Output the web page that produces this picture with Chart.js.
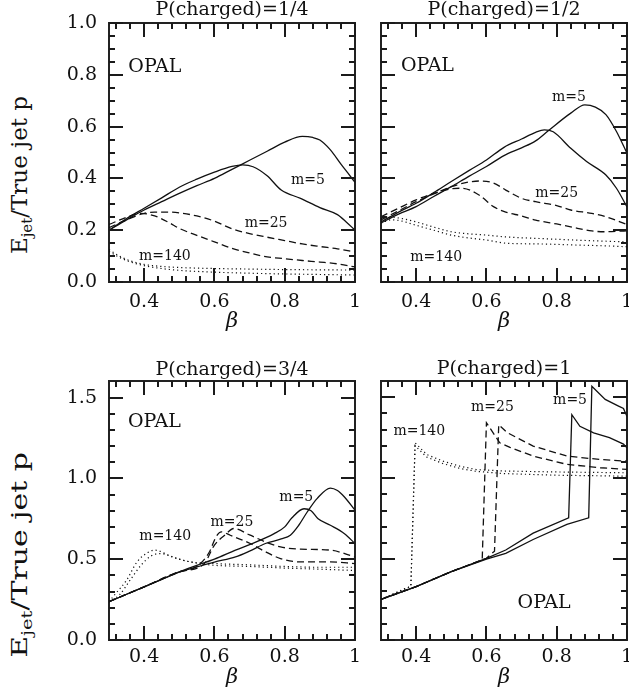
<!DOCTYPE html>
<html><head><meta charset="utf-8">
<script src="https://cdn.jsdelivr.net/npm/chart.js@4.4.1/dist/chart.umd.min.js"></script>
<style>
html,body{margin:0;padding:0;background:#fff;width:629px;height:698px;overflow:hidden;}
body{position:relative;}
canvas{position:absolute;}
.ylab{position:absolute;font-family:'DejaVu Serif';font-size:23px;color:#111;white-space:nowrap;}
.ylab sub{font-size:15px;vertical-align:-5px;}
</style></head><body>
<div class="ylab" style="left:21px;top:175px;transform:translate(-50%,-50%) rotate(-90deg);">E<sub>jet</sub>/True jet p</div>
<div class="ylab" style="left:21px;top:555px;transform:translate(-50%,-50%) rotate(-90deg) scaleX(1.3);">E<sub>jet</sub>/True jet p</div>
<canvas id="c1"></canvas><canvas id="c2"></canvas><canvas id="c3"></canvas><canvas id="c4"></canvas>
<script>
// ---------- tick values ----------
const xTickVals = [0.4, 0.6, 0.8, 1.0];
const xMinorVals = [0.32,0.36,0.44,0.48,0.52,0.56,0.64,0.68,0.72,0.76,0.84,0.88,0.92,0.96];
const yTickValsTop = [0, 0.2, 0.4, 0.6, 0.8, 1.0];
const yMinorTop = [0.05,0.1,0.15,0.25,0.3,0.35,0.45,0.5,0.55,0.65,0.7,0.75,0.85,0.9,0.95];
const yTickValsBot = [0, 0.5, 1.0, 1.5];
const yMinorBot = [0.1,0.2,0.3,0.4,0.6,0.7,0.8,0.9,1.1,1.2,1.3,1.4];
const panelTitles = ['P(charged)=1/4','P(charged)=1/2','P(charged)=3/4','P(charged)=1'];

// ---------- P(charged)=1/4 ----------
const q1_m5_a = [[0.3,0.2],[0.35,0.245],[0.4,0.285],[0.45,0.325],[0.5,0.366],[0.55,0.397],[0.6,0.424],[0.65,0.446],[0.68,0.452],[0.71,0.445],[0.75,0.41],[0.79,0.355],[0.845,0.323],[0.9,0.287],[0.95,0.26],[0.975,0.232],[1.0,0.2]];
const q1_m5_b = [[0.3,0.2],[0.35,0.24],[0.4,0.278],[0.45,0.31],[0.5,0.342],[0.55,0.372],[0.6,0.4],[0.65,0.435],[0.7,0.47],[0.75,0.505],[0.8,0.54],[0.85,0.562],[0.88,0.558],[0.9,0.548],[0.93,0.51],[0.96,0.455],[0.98,0.42],[1.0,0.385]];
const q1_m25_a = [[0.3,0.222],[0.35,0.25],[0.39,0.265],[0.43,0.255],[0.47,0.23],[0.5,0.207],[0.55,0.18],[0.6,0.155],[0.65,0.13],[0.7,0.112],[0.75,0.097],[0.8,0.09],[0.85,0.083],[0.9,0.077],[0.95,0.07],[1.0,0.058]];
const q1_m25_b = [[0.3,0.21],[0.35,0.24],[0.4,0.265],[0.43,0.27],[0.47,0.27],[0.5,0.267],[0.55,0.255],[0.6,0.235],[0.65,0.205],[0.7,0.187],[0.75,0.173],[0.8,0.16],[0.85,0.147],[0.9,0.137],[0.95,0.128],[1.0,0.116]];
const q1_m140_a = [[0.3,0.125],[0.33,0.1],[0.36,0.082],[0.4,0.068],[0.45,0.06],[0.5,0.056],[0.6,0.052],[0.7,0.05],[0.8,0.048],[0.9,0.047],[1.0,0.046]];
const q1_m140_b = [[0.3,0.118],[0.33,0.095],[0.36,0.078],[0.4,0.063],[0.45,0.052],[0.5,0.045],[0.6,0.038],[0.7,0.034],[0.8,0.031],[0.9,0.029],[1.0,0.027]];

// ---------- P(charged)=1/2 ----------
const q2_m5_a = [[0.3,0.232],[0.35,0.27],[0.4,0.304],[0.45,0.345],[0.5,0.388],[0.55,0.43],[0.6,0.471],[0.65,0.52],[0.7,0.552],[0.74,0.578],[0.765,0.587],[0.79,0.58],[0.84,0.516],[0.885,0.465],[0.94,0.413],[0.97,0.362],[1.0,0.29]];
const q2_m5_b = [[0.3,0.228],[0.35,0.262],[0.4,0.291],[0.45,0.33],[0.5,0.368],[0.55,0.408],[0.6,0.446],[0.65,0.488],[0.7,0.518],[0.74,0.545],[0.776,0.584],[0.84,0.652],[0.88,0.684],[0.91,0.675],[0.94,0.646],[0.97,0.581],[1.0,0.497]];
const q2_m25_a = [[0.3,0.252],[0.35,0.285],[0.4,0.317],[0.45,0.342],[0.5,0.36],[0.53,0.362],[0.58,0.335],[0.62,0.291],[0.655,0.27],[0.7,0.255],[0.74,0.239],[0.8,0.224],[0.84,0.213],[0.9,0.197],[0.94,0.194],[1.0,0.198]];
const q2_m25_b = [[0.3,0.24],[0.35,0.275],[0.4,0.31],[0.45,0.34],[0.5,0.368],[0.55,0.386],[0.58,0.39],[0.62,0.382],[0.655,0.355],[0.7,0.323],[0.74,0.31],[0.8,0.295],[0.84,0.278],[0.9,0.265],[0.94,0.252],[1.0,0.222]];
const q2_m140_a = [[0.3,0.245],[0.33,0.25],[0.36,0.245],[0.4,0.232],[0.45,0.212],[0.5,0.194],[0.55,0.186],[0.6,0.181],[0.655,0.174],[0.75,0.168],[0.85,0.162],[0.95,0.157],[1.0,0.155]];
const q2_m140_b = [[0.3,0.228],[0.33,0.24],[0.36,0.235],[0.4,0.219],[0.45,0.2],[0.5,0.181],[0.55,0.17],[0.6,0.162],[0.655,0.15],[0.75,0.147],[0.85,0.143],[0.95,0.139],[1.0,0.136]];

// ---------- P(charged)=3/4 ----------
const q3_m5_a = [[0.3,0.237],[0.35,0.283],[0.4,0.329],[0.45,0.375],[0.5,0.422],[0.55,0.462],[0.6,0.5],[0.66,0.556],[0.7,0.59],[0.77,0.658],[0.8,0.7],[0.82,0.755],[0.855,0.812],[0.875,0.8],[0.895,0.75],[0.93,0.71],[0.97,0.658],[1.0,0.597]];
const q3_m5_b = [[0.3,0.237],[0.35,0.283],[0.4,0.329],[0.45,0.375],[0.5,0.42],[0.55,0.452],[0.6,0.482],[0.66,0.514],[0.7,0.55],[0.745,0.597],[0.79,0.625],[0.816,0.648],[0.84,0.71],[0.864,0.792],[0.892,0.875],[0.93,0.94],[0.95,0.925],[0.97,0.885],[1.0,0.803]];
const q3_m25_a = [[0.3,0.237],[0.4,0.329],[0.5,0.422],[0.55,0.455],[0.586,0.546],[0.605,0.64],[0.62,0.669],[0.645,0.648],[0.702,0.597],[0.745,0.546],[0.788,0.504],[0.845,0.483],[0.93,0.483],[1.0,0.473]];
const q3_m25_b = [[0.3,0.237],[0.4,0.329],[0.5,0.422],[0.57,0.47],[0.6,0.587],[0.63,0.65],[0.655,0.69],[0.7,0.65],[0.745,0.607],[0.788,0.576],[0.845,0.562],[0.93,0.556],[1.0,0.514]];
const q3_m140_a = [[0.3,0.237],[0.32,0.29],[0.35,0.37],[0.38,0.484],[0.41,0.54],[0.43,0.556],[0.48,0.514],[0.53,0.484],[0.6,0.473],[0.7,0.465],[0.8,0.455],[0.9,0.45],[1.0,0.45]];
const q3_m140_b = [[0.3,0.237],[0.33,0.28],[0.36,0.37],[0.39,0.46],[0.42,0.52],[0.445,0.535],[0.5,0.5],[0.55,0.475],[0.6,0.462],[0.7,0.455],[0.8,0.445],[0.9,0.438],[1.0,0.43]];

// ---------- P(charged)=1 ----------
const q4_m5_a = [[0.3,0.251],[0.4,0.33],[0.5,0.422],[0.6,0.504],[0.655,0.556],[0.733,0.66],[0.834,0.755],[0.843,1.392],[0.866,1.32],[0.905,1.28],[0.95,1.25],[0.99,1.21],[1.0,1.187]];
const q4_m5_b = [[0.3,0.251],[0.4,0.33],[0.5,0.422],[0.6,0.5],[0.655,0.535],[0.733,0.621],[0.829,0.714],[0.891,0.755],[0.9,1.568],[0.938,1.486],[0.976,1.445],[0.99,1.43],[1.0,1.38]];
const q4_m25_a = [[0.3,0.251],[0.4,0.33],[0.5,0.422],[0.588,0.495],[0.6,1.342],[0.638,1.218],[0.667,1.19],[0.733,1.136],[0.829,1.085],[0.924,1.064],[1.0,1.054]];
const q4_m25_b = [[0.3,0.251],[0.4,0.33],[0.5,0.422],[0.6,0.505],[0.623,0.549],[0.635,1.33],[0.66,1.28],[0.733,1.198],[0.829,1.136],[0.924,1.115],[1.0,1.105]];
const q4_m140_a = [[0.3,0.251],[0.385,0.333],[0.397,1.218],[0.43,1.146],[0.476,1.105],[0.524,1.074],[0.571,1.053],[0.65,1.044],[0.8,1.038],[1.0,1.033]];
const q4_m140_b = [[0.3,0.251],[0.385,0.333],[0.397,1.2],[0.43,1.13],[0.476,1.09],[0.524,1.06],[0.571,1.042],[0.65,1.028],[0.8,1.018],[1.0,1.012]];

// ---------- annotations (data coordinates) ----------
const notes1 = [['OPAL',0.355,0.83,'left',19],['m=5',0.866,0.394,'center',14],['m=25',0.747,0.226,'center',14],['m=140',0.459,0.098,'center',14]];
const notes2 = [['OPAL',0.357,0.832,'left',19],['m=5',0.835,0.711,'center',14],['m=25',0.8,0.343,'center',14],['m=140',0.457,0.094,'center',14]];
const notes3 = [['OPAL',0.354,1.349,'left',19],['m=140',0.46,0.643,'center',14],['m=25',0.65,0.73,'center',14],['m=5',0.833,0.885,'center',14]];
const notes4 = [['m=140',0.409,1.286,'center',14],['m=25',0.617,1.44,'center',14],['m=5',0.838,1.481,'center',14],['OPAL',0.764,0.227,'center',19]];

const INK = '#111';
const FONT = 'DejaVu Serif';
Chart.defaults.font.family = FONT;
Chart.defaults.color = INK;

function makeDecor(yMajor, yMinor, notes) {
  return {
    id: 'decor',
    afterDraw(chart) {
      const ctx = chart.ctx, a = chart.chartArea, xs = chart.scales.x, ys = chart.scales.y;
      ctx.save();
      ctx.fillStyle = '#1a1a1a';
      const w = 2;
      const L = Math.round(a.left), R = Math.round(a.right), T = Math.round(a.top), B = Math.round(a.bottom);
      const doX = (vals, len) => { for (const v of vals) { const p = Math.round(xs.getPixelForValue(v)); ctx.fillRect(p - 1, B - len, w, len); ctx.fillRect(p - 1, T, w, len); } };
      const doY = (vals, len) => { for (const v of vals) { const p = Math.round(ys.getPixelForValue(v)); ctx.fillRect(L, p - 1, len, w); ctx.fillRect(R - len, p - 1, len, w); } };
      doX(xTickVals, 14); doX(xMinorVals, 6);
      doY(yMajor, 14); doY(yMinor, 6);
      ctx.fillStyle = INK;
      ctx.textBaseline = 'middle';
      notes.forEach(([t, vx, vy, al, sz]) => {
        ctx.font = sz + 'px "' + FONT + '"';
        ctx.textAlign = al;
        ctx.fillText(t, xs.getPixelForValue(vx), ys.getPixelForValue(vy));
      });
      ctx.restore();
    }
  };
}

const styleFor = {m5: [], m25: [7, 4], m140: [1.2, 3]};
function ds(arr, kind, smooth) {
  return {
    data: arr.map(([x, y]) => ({x, y})),
    borderColor: INK, borderWidth: kind === 'm140' ? 1.2 : 1.3, borderDash: styleFor[kind],
    pointRadius: 0, fill: false,
    cubicInterpolationMode: smooth ? 'monotone' : 'default', tension: 0
  };
}

function makePanel(id, p) {
  const cv = document.getElementById(id);
  const w = p.W + p.gL + p.gR, h = p.H + p.gT + p.gB;
  cv.width = w; cv.height = h;
  cv.style.left = (p.L - p.gL) + 'px'; cv.style.top = (p.T - p.gT) + 'px';
  cv.style.width = w + 'px'; cv.style.height = h + 'px';
  const border = {display: true, color: '#222', width: 2};
  new Chart(cv, {
    type: 'line',
    data: {datasets: p.sets},
    plugins: [makeDecor(p.yTicks, p.yMinor, p.notes)],
    options: {
      responsive: false, animation: false, events: [], devicePixelRatio: 1,
      layout: {padding: 0},
      plugins: {legend: {display: false}, tooltip: {enabled: false}, title: {display: false}},
      scales: {
        x: {type: 'linear', position: 'bottom', min: 0.3, max: 1.0,
          afterBuildTicks: s => { s.ticks = xTickVals.map(v => ({value: v})); },
          afterFit: s => { s.height = p.gB; },
          grid: {display: false, drawTicks: false}, border,
          ticks: {font: {size: 19}, padding: p.xPad, maxRotation: 0, autoSkip: false, color: INK,
            callback: v => v === 1 ? '1' : v.toFixed(1)},
          title: {display: true, text: 'β', font: {size: 21, style: 'italic'}, padding: 0, color: INK}},
        x2: {type: 'linear', position: 'top', min: 0.3, max: 1.0,
          afterFit: s => { s.height = p.gT; },
          grid: {display: false, drawTicks: false}, border, ticks: {display: false},
          title: {display: true, text: p.title, font: {size: 19}, padding: 0, color: INK}},
        y: {type: 'linear', position: 'left', min: 0, max: p.yMax,
          afterBuildTicks: s => { s.ticks = p.yTicks.map(v => ({value: v})); },
          afterFit: s => { s.width = p.gL; },
          grid: {display: false, drawTicks: false}, border,
          ticks: {display: p.showY, font: {size: 19}, padding: 12, color: INK, callback: v => v.toFixed(1)}},
        y2: {type: 'linear', position: 'right', min: 0, max: p.yMax,
          afterFit: s => { s.width = p.gR; },
          grid: {display: false, drawTicks: false}, border, ticks: {display: false}}
      }
    }
  });
}

makePanel('c1', {L: 109, T: 23, W: 246, H: 259, gL: 70, gT: 24, gR: 20, gB: 52, xPad: 9,
  yMax: 1.0, yTicks: yTickValsTop, yMinor: yMinorTop, showY: true, title: panelTitles[0], notes: notes1,
  sets: [ds(q1_m5_a,'m5',1), ds(q1_m5_b,'m5',1), ds(q1_m25_a,'m25',1), ds(q1_m25_b,'m25',1), ds(q1_m140_a,'m140',1), ds(q1_m140_b,'m140',1)]});
makePanel('c2', {L: 381, T: 23, W: 246, H: 259, gL: 20, gT: 24, gR: 20, gB: 52, xPad: 9,
  yMax: 1.0, yTicks: yTickValsTop, yMinor: yMinorTop, showY: false, title: panelTitles[1], notes: notes2,
  sets: [ds(q2_m5_a,'m5',1), ds(q2_m5_b,'m5',1), ds(q2_m25_a,'m25',1), ds(q2_m25_b,'m25',1), ds(q2_m140_a,'m140',1), ds(q2_m140_b,'m140',1)]});
makePanel('c3', {L: 109, T: 381, W: 246, H: 259, gL: 70, gT: 23, gR: 20, gB: 50, xPad: 6,
  yMax: 1.6, yTicks: yTickValsBot, yMinor: yMinorBot, showY: true, title: panelTitles[2], notes: notes3,
  sets: [ds(q3_m5_a,'m5',1), ds(q3_m5_b,'m5',1), ds(q3_m25_a,'m25',1), ds(q3_m25_b,'m25',1), ds(q3_m140_a,'m140',1), ds(q3_m140_b,'m140',1)]});
makePanel('c4', {L: 381, T: 381, W: 246, H: 259, gL: 20, gT: 23, gR: 20, gB: 50, xPad: 6,
  yMax: 1.6, yTicks: yTickValsBot, yMinor: yMinorBot, showY: false, title: panelTitles[3], notes: notes4,
  sets: [ds(q4_m5_a,'m5',0), ds(q4_m5_b,'m5',0), ds(q4_m25_a,'m25',0), ds(q4_m25_b,'m25',0), ds(q4_m140_a,'m140',0), ds(q4_m140_b,'m140',0)]});
</script>
</body></html>
